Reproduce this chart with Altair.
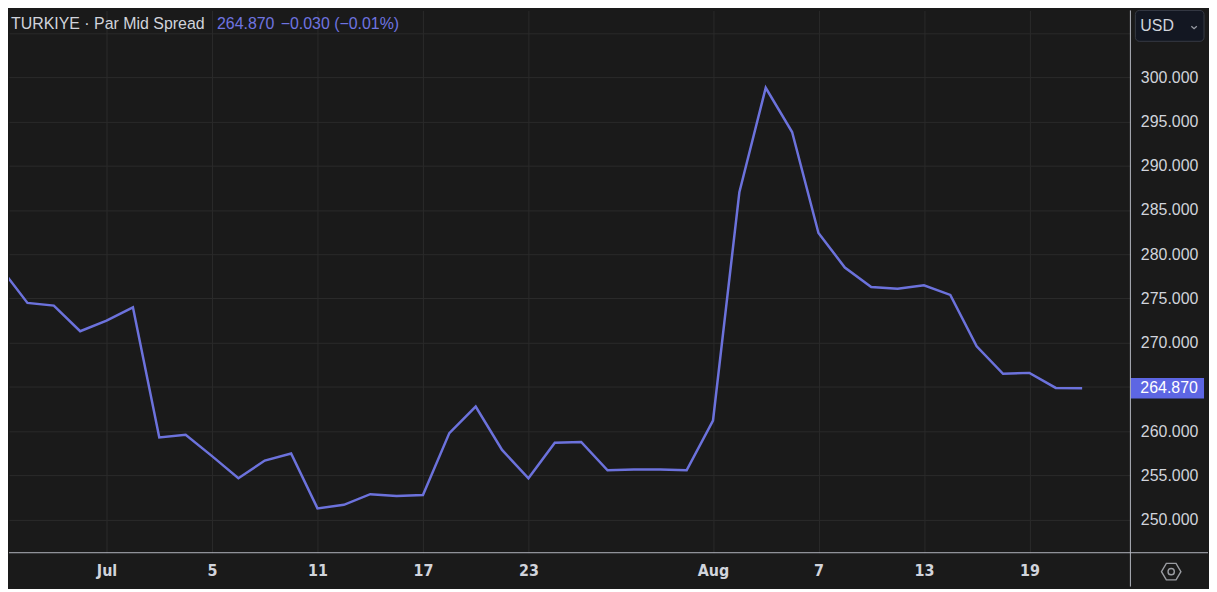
import altair as alt
import pandas as pd

# ---------------- data ----------------
dates = [
    "2024-06-25", "2024-06-26", "2024-06-27", "2024-06-28",
    "2024-07-01", "2024-07-02", "2024-07-03", "2024-07-04", "2024-07-05",
    "2024-07-08", "2024-07-09", "2024-07-10", "2024-07-11", "2024-07-12",
    "2024-07-15", "2024-07-16", "2024-07-17", "2024-07-18", "2024-07-19",
    "2024-07-22", "2024-07-23", "2024-07-24", "2024-07-25", "2024-07-26",
    "2024-07-29", "2024-07-30", "2024-07-31", "2024-08-01", "2024-08-02",
    "2024-08-05", "2024-08-06", "2024-08-07", "2024-08-08", "2024-08-09",
    "2024-08-12", "2024-08-13", "2024-08-14", "2024-08-15", "2024-08-16",
    "2024-08-19", "2024-08-20", "2024-08-21",
]
values = [
    278.4, 274.5, 274.2, 271.3,
    272.5, 274.0, 259.3, 259.6, 257.2,
    254.7, 256.7, 257.5, 251.3, 251.7,
    252.9, 252.7, 252.8, 259.8, 262.8,
    257.9, 254.7, 258.7, 258.8, 255.6,
    255.7, 255.7, 255.6, 261.2, 287.0,
    298.8, 293.8, 282.4, 278.5, 276.3,
    276.1, 276.5, 275.4, 269.6, 266.5,
    266.6, 264.9, 264.87,
]
tick_dates = ["2024-07-01", "2024-07-05", "2024-07-11", "2024-07-17", "2024-07-23",
              "2024-08-01", "2024-08-07", "2024-08-13", "2024-08-19"]
tick_labels = ["Jul", "5", "11", "17", "23", "Aug", "7", "13", "19"]
y_ticks = [250, 255, 260, 265, 270, 275, 280, 285, 290, 295, 300, 305]
title_name = "TURKIYE · Par Mid Spread"
title_value = "264.870"
title_change = "\u22120.030 (\u22120.01%)"
currency = "USD"

# ---------------- styling ----------------
BG = "#1a1a1a"
GRID = "#2a2a2a"
AXIS = "#b2b5be"
LABEL = "#d1d4dc"
LINE = "#6c72dc"
BADGE = "#5d66e3"
W, H = 1127, 545
RIGHT_EXT, BOTTOM_EXT = 78, 34

origin = dates.index("2024-07-01")
df = pd.DataFrame({"date": dates, "v": values, "idx": [i - origin for i in range(len(dates))]})
tick_pos = [dates.index(d) - origin for d in tick_dates]
label_expr = " : ".join(f"datum.value == {p} ? '{l}'" for p, l in zip(tick_pos, tick_labels)) + " : ''"
last_df = df.tail(1)
one = alt.Data(values=[{"a": 1}])

xscale = alt.Scale(domain=[-3.70, 38.83], nice=False, zero=False)
yscale = alt.Scale(domain=[246.29, 307.53], nice=False, zero=False)

line = alt.Chart(df).mark_line(color=LINE, strokeWidth=2.5, clip=True).encode(
    x=alt.X("idx:Q", scale=xscale, title=None,
            axis=alt.Axis(values=tick_pos, labelExpr=label_expr, grid=True, gridColor=GRID,
                          domain=False, ticks=False, labelColor=LABEL,
                          labelFont="Liberation Sans Narrow, DejaVu Sans Condensed, sans-serif",
                          labelFontWeight="bold", labelFontSize=16, labelBaseline="middle",
                          labelPadding=18, minExtent=BOTTOM_EXT, maxExtent=BOTTOM_EXT,
                          labelOverlap=False)),
    y=alt.Y("v:Q", scale=yscale, title=None,
            axis=alt.Axis(orient="right", values=y_ticks, format=".3f",
                          labelExpr="datum.value == 265 || datum.value >= 305 ? '' : datum.label",
                          grid=True, gridColor=GRID, domain=False, ticks=False,
                          labelColor=LABEL, labelFont="Liberation Sans", labelFontSize=16,
                          labelPadding=10, labelAlign="left",
                          minExtent=RIGHT_EXT, maxExtent=RIGHT_EXT, labelOverlap=False)),
)

rule_v = alt.Chart(one).mark_rule(color=AXIS, strokeWidth=1).encode(
    x=alt.value(W), y=alt.value(0), y2=alt.value(H + BOTTOM_EXT))
rule_h = alt.Chart(one).mark_rule(color=AXIS, strokeWidth=1).encode(
    x=alt.value(0), x2=alt.value(W + RIGHT_EXT), y=alt.value(H))

badge = alt.Chart(last_df).transform_calculate(
    top="datum.v + 1.15", bot="datum.v - 1.15"
).mark_rect(color=BADGE).encode(
    x=alt.value(W), x2=alt.value(W + 74),
    y=alt.Y("top:Q", scale=yscale, title=None), y2="bot:Q")
badge_text = alt.Chart(last_df).mark_text(
    align="left", baseline="middle", color="#ffffff", fontSize=16, font="Liberation Sans"
).encode(x=alt.value(W + 10), y=alt.Y("v:Q", scale=yscale, title=None),
         text=alt.Text("v:Q", format=".3f"))

t1 = alt.Chart(one).mark_text(align="left", baseline="middle", color=LABEL, fontSize=16,
                              font="Liberation Sans", text=title_name).encode(
    x=alt.value(2), y=alt.value(14))
t2 = alt.Chart(one).mark_text(align="left", baseline="middle", color="#6f74e0", fontSize=16,
                              font="Liberation Sans", text=title_value).encode(
    x=alt.value(209), y=alt.value(14))
t3 = alt.Chart(one).mark_text(align="left", baseline="middle", color="#6f74e0", fontSize=16,
                              font="Liberation Sans", text=title_change).encode(
    x=alt.value(273), y=alt.value(14))

usd_box = alt.Chart(one).mark_rect(fill="#131722", stroke="#363a45", strokeWidth=1,
                                   cornerRadius=4).encode(
    x=alt.value(W + 5), x2=alt.value(W + 74), y=alt.value(0), y2=alt.value(31))
usd_text = alt.Chart(one).mark_text(align="left", baseline="middle", color=LABEL, fontSize=16,
                                    font="Liberation Sans", text=currency).encode(
    x=alt.value(W + 10), y=alt.value(16))
chevron = alt.Chart(one).mark_point(
    shape="M-1,-0.4L0,0.5L1,-0.4", filled=False, color=LABEL, strokeWidth=1.3, size=30
).encode(x=alt.value(W + 64), y=alt.value(17))

hexagon = alt.Chart(one).mark_point(
    shape="M-1,0L-0.5,-0.85L0.5,-0.85L1,0L0.5,0.85L-0.5,0.85Z", filled=False,
    color=LABEL, strokeWidth=1.4, size=380
).encode(x=alt.value(W + 41), y=alt.value(H + 19))
hex_dot = alt.Chart(one).mark_point(shape="circle", filled=False, color=LABEL,
                                    strokeWidth=1.4, size=40).encode(
    x=alt.value(W + 41), y=alt.value(H + 19))

chart = alt.layer(
    line, badge, badge_text, rule_v, rule_h, t1, t2, t3,
    usd_box, usd_text, chevron, hexagon, hex_dot
).properties(
    width=W, height=H, padding=0, background=BG
).configure_view(stroke=None, fill=BG)

chart.save("out.html", embed_options={"renderer": "svg", "actions": False})
